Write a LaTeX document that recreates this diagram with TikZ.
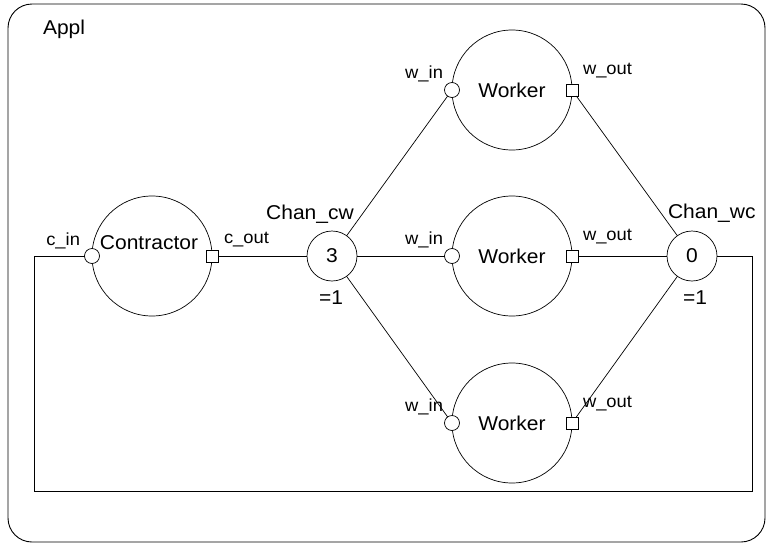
\documentclass[tikz,border=0pt]{standalone}
\usepackage{fontspec}
\setmainfont{Liberation Sans}[FakeStretch=1.05]
\begin{document}
\begin{tikzpicture}[x=1pt,y=-1pt,
  every node/.style={inner sep=0pt, outer sep=0pt},
  proc/.style={circle, draw, line width=0.7pt, minimum size=120pt},
  chan/.style={circle, draw, line width=0.7pt, minimum size=50pt, font=\fontsize{20}{24}\selectfont},
  inport/.style={circle, draw, fill=white, line width=0.7pt, minimum size=15pt},
  outport/.style={rectangle, draw, fill=white, line width=0.7pt, minimum size=12pt},
  namefont/.style={font=\fontsize{20}{24}\selectfont},
  portfont/.style={font=\fontsize{17.5}{21}\selectfont},
  wire/.style={line width=0.7pt}]
\useasboundingbox (0,0) rectangle (766,544);
\draw[line width=0.9pt, rounded corners=24pt] (8,4) rectangle (765,542);
\node[namefont, anchor=base west] (appl) at (43,34) {Appl};
% Contractor
\node[proc] (con) at (152,256) {};
\node[namefont] (contxt) at (149,243) {Contractor};
% Channels
\node[chan] (ccw) at (332,256) {3};
\node[chan] (cwc) at (692,256) {0};
\node[namefont] (ccwlab) at (310,214) {Chan\_cw};
\node[namefont, anchor=west] (cwclab) at (668,213) {Chan\_wc};
\node[namefont] (ccweq) at (331,298) {=1};
\node[namefont] (cwceq) at (695,298) {=1};
% Workers
\foreach \i/\y in {1/90,2/256,3/423}{
  \node[proc, namefont] (w\i) at (512,\y) {Worker};
  \node[portfont, anchor=east] (winl\i) at (443,\y-16) {w\_in};
  \node[portfont, anchor=west] (woutl\i) at (583,\y-19) {w\_out};
}
\coordinate (rb) at (752,491);
\coordinate (lb) at (34,491);
% ports
\node[outport] (cout) at (con.east) {};
\node[inport] (cin) at (con.west) {};
\node[portfont, anchor=east] (cinl) at (80,241) {c\_in};
\node[portfont, anchor=west] (coutl) at (224,240) {c\_out};
\foreach \i in {1,2,3}{
  \node[inport] (win\i) at (w\i.west) {};
  \node[outport] (wout\i) at (w\i.east) {};
  \draw[wire] (ccw) -- (win\i);
  \draw[wire] (wout\i) -- (cwc);
}
\draw[wire] (cout) -- (ccw);
\draw[wire] (cwc.east) -| (rb) -- (lb) |- (cin.west);
\end{tikzpicture}
\end{document}
